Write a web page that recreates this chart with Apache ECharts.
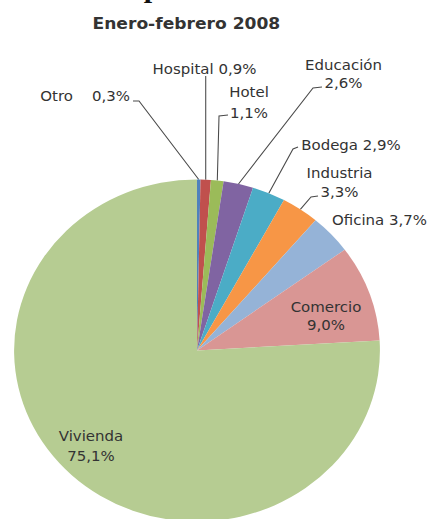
<!DOCTYPE html>
<html>
<head>
<meta charset="utf-8">
<script src="https://cdn.jsdelivr.net/npm/echarts@6/dist/echarts.min.js"></script>
<style>
  html, body { margin: 0; padding: 0; background: #fff; overflow: hidden; width: 430px; height: 519px; }
  /* the chart is drawn slightly narrower and widened, so the pie is a wide ellipse */
  #chart { width: 402px; height: 519px; transform: scaleX(1.0697); transform-origin: 0 0; }
</style>
</head>
<body>
<div id="chart"></div>
<script>
// Share of building activity by type, January–February 2008 (%)
const categories = ['Otro', 'Hospital', 'Hotel', 'Educación', 'Bodega', 'Industria', 'Oficina', 'Comercio', 'Vivienda'];
const shares = [0.3, 0.9, 1.1, 2.6, 2.9, 3.3, 3.7, 9.0, 75.1];
const sliceColors = ['#4f81bd', '#c0504d', '#9bbb59', '#8064a2', '#4bacc6', '#f79646', '#95b3d7', '#d99694', '#b6cc92'];
const chartTitle = 'Enero-febrero 2008';

const STRETCH = 430 / 402;
const FONT = '"DejaVu Sans", Verdana, sans-serif';

// Label placement in page pixels; "line" lists the leader-line bend and end points
const labelSpots = [
  { x: 130,   y: 96,    align: 'right', sep: '\u00a0\u00a0\u00a0\u00a0', line: [[139, 101], [133, 101]] },
  { x: 204.5, y: 69,    sep: ' ',  line: [['edge', 77], ['edge', 76]] },
  { x: 249,   y: 102.5, sep: '\n', lh: 21, line: [[219, 116], [228, 115]] },
  { x: 343.5, y: 74,    sep: '\n', lh: 18, line: [[313, 88], [322, 87]] },
  { x: 351,   y: 145,   sep: ' ',  line: [[293, 149], [298, 147]] },
  { x: 339.5, y: 182.5, sep: '\n', lh: 19, line: [[311, 197], [318, 196]] },
  { x: 332,   y: 220,   align: 'left', sep: ' ' },
  { x: 326,   y: 316,   sep: '\n', lh: 18 },
  { x: 91,    y: 446,   sep: '\n', lh: 20 }
];

const pct = v => v.toFixed(1).replace('.', ',') + '%';

const chart = echarts.init(document.getElementById('chart'), null, { renderer: 'svg' });

const pieData = categories.map((name, i) => ({
  name: name,
  value: shares[i],
  itemStyle: { color: sliceColors[i] },
  label: { lineHeight: labelSpots[i].lh || 17 },
  labelLine: { show: !!labelSpots[i].line }
}));

chart.setOption({
  animation: false,
  title: {
    text: chartTitle,
    left: 181 / STRETCH,
    top: 9,
    textAlign: 'center',
    textStyle: { fontFamily: FONT, fontWeight: 'bold', fontSize: 16, lineHeight: 20, color: '#333' }
  },
  // tail of the heading line above, which runs off the top edge of the page
  graphic: [{
    type: 'text',
    x: 152 / STRETCH,
    y: 1,
    silent: true,
    style: { text: 'p', font: 'bold 28px "Liberation Serif", serif', fill: '#111', textAlign: 'center', textVerticalAlign: 'bottom' }
  }],
  series: [{
    type: 'pie',
    center: [197 / STRETCH, 350.5],
    radius: 171,
    startAngle: 90,
    clockwise: true,
    avoidLabelOverlap: false,
    silent: true,
    emphasis: { disabled: true },
    itemStyle: { borderWidth: 0 },
    label: {
      show: true,
      position: 'outside',
      fontFamily: FONT,
      fontSize: 14,
      color: '#333',
      formatter: p => p.name + labelSpots[p.dataIndex].sep + pct(p.value)
    },
    labelLine: { lineStyle: { color: '#4a4a4a', width: 1 } },
    labelLayout: params => {
      const spot = labelSpots[params.dataIndex];
      const out = { x: spot.x / STRETCH, y: spot.y, align: spot.align || 'center', verticalAlign: 'middle' };
      if (spot.line && params.labelLinePoints) {
        const p0 = params.labelLinePoints[0];
        const pts = [[p0[0], p0[1]]];
        spot.line.forEach(([lx, ly]) => pts.push([lx === 'edge' ? p0[0] : lx / STRETCH, ly]));
        out.labelLinePoints = pts;
      }
      return out;
    },
    data: pieData
  }]
});
</script>
</body>
</html>
